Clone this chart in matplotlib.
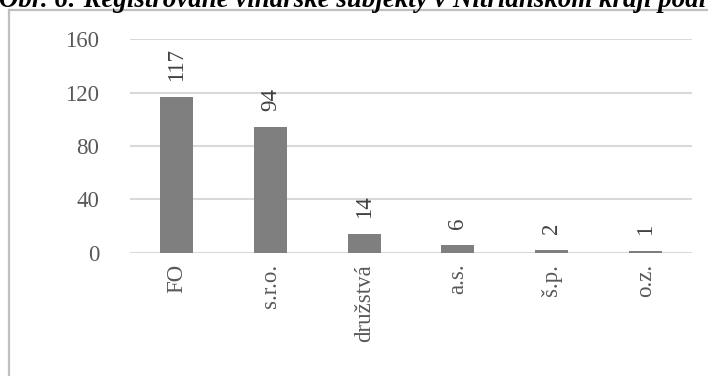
import matplotlib
matplotlib.use("Agg")
import matplotlib.pyplot as plt
from matplotlib.lines import Line2D

categories = ["FO", "s.r.o.", "družstvá", "a.s.", "š.p.", "o.z."]
values = [117, 94, 14, 6, 2, 1]
yticks = [0, 40, 80, 120, 160]
title = "Obr. 6: Registrované vinárske subjekty v Nitrianskom kraji podľa"

plt.rcParams["font.family"] = ["Liberation Serif", "DejaVu Serif"]

W, H = 708, 376
fig = plt.figure(figsize=(W / 100, H / 100), dpi=100)
ax = fig.add_axes([130 / W, 1 - 252.7 / H, 562 / W, (252.7 - 39.3) / H])

x = range(len(categories))
ax.bar(x, values, width=0.35, color="#7f7f7f", zorder=3)

# data labels above the bars, rotated like the original
for xi, v in zip(x, values):
    ax.annotate(str(v), (xi, v), xytext=(0, 16), textcoords="offset pixels",
                rotation=90, ha="center", va="bottom", fontsize=16.5, color="#404040")

ax.set_xlim(-0.5, len(categories) - 0.5)
ax.set_ylim(0, 160)
ax.set_yticks(yticks)
ax.set_xticks(list(x))
ax.set_xticklabels(categories, rotation=90)
ax.tick_params(axis="both", length=0, labelsize=16.5, labelcolor="#595959")
ax.tick_params(axis="x", pad=8)
ax.tick_params(axis="y", pad=22)
ax.grid(axis="y", color="#d9d9d9", linewidth=1.5, zorder=0)
for s in ax.spines.values():
    s.set_visible(False)

# chart frame (only top and left edges are visible in the crop)
fig.add_artist(Line2D([8.5 / W, 1], [1 - 10 / H, 1 - 10 / H], color="#bfbfbf", linewidth=1.6))
fig.add_artist(Line2D([8.5 / W, 8.5 / W], [0, 1 - 10 / H], color="#bfbfbf", linewidth=1.6))

# caption above, mostly cut off by the crop
fig.text(-0.002, 1 - 7 / H, title, ha="left", va="baseline", fontsize=19.4,
         fontweight="bold", fontstyle="italic", color="black")

fig.savefig("out.png", dpi=100)
